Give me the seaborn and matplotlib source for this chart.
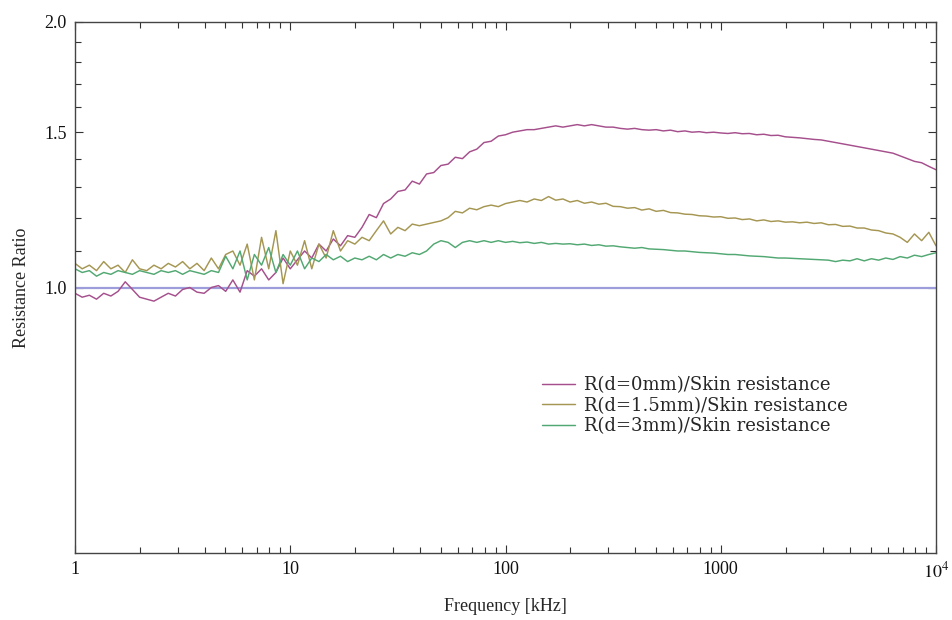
import numpy as np
import pandas as pd
import matplotlib
matplotlib.use("Agg")
import matplotlib.pyplot as plt
import seaborn as sns
from matplotlib.ticker import FixedLocator, NullFormatter, FixedFormatter, LogLocator

# ---------------- data ----------------
freq_khz = np.logspace(0, 4, 121)  # sampling grid, 1 kHz .. 10^4 kHz

ratio_d0 = [
    0.985, 0.975, 0.98, 0.97, 0.985, 0.978, 0.99, 1.015, 0.995, 0.975,
    0.97, 0.965, 0.975, 0.985, 0.978, 0.995, 1.0, 0.988, 0.985, 1.0,
    1.005, 0.99, 1.02, 0.988, 1.045, 1.03, 1.05, 1.02, 1.04, 1.08,
    1.05, 1.075, 1.1, 1.08, 1.12, 1.1, 1.135, 1.115, 1.145, 1.14,
    1.17, 1.21, 1.2, 1.245, 1.26, 1.285, 1.29, 1.32, 1.31, 1.345,
    1.35, 1.375, 1.38, 1.405, 1.4, 1.425, 1.435, 1.46, 1.465, 1.485,
    1.49, 1.50, 1.505, 1.51, 1.51, 1.515, 1.52, 1.525, 1.52, 1.525,
    1.53, 1.525, 1.53, 1.525, 1.52, 1.52, 1.515, 1.512, 1.515, 1.51,
    1.508, 1.51, 1.505, 1.508, 1.502, 1.505, 1.5, 1.502, 1.498, 1.5,
    1.497, 1.495, 1.498, 1.494, 1.495, 1.49, 1.492, 1.487, 1.488, 1.482,
    1.48, 1.478, 1.475, 1.472, 1.47, 1.465, 1.46, 1.455, 1.45, 1.445,
    1.44, 1.435, 1.43, 1.425, 1.42, 1.41, 1.4, 1.39, 1.385, 1.372,
    1.36,
]

ratio_d15 = [
    1.065, 1.05, 1.06, 1.045, 1.07, 1.05, 1.06, 1.04, 1.075, 1.05,
    1.045, 1.06, 1.05, 1.065, 1.055, 1.07, 1.05, 1.065, 1.045, 1.08,
    1.05, 1.09, 1.1, 1.06, 1.12, 1.02, 1.14, 1.05, 1.16, 1.01,
    1.1, 1.06, 1.13, 1.05, 1.12, 1.08, 1.16, 1.1, 1.13, 1.12,
    1.14, 1.13, 1.16, 1.19, 1.15, 1.17, 1.16, 1.18, 1.175, 1.18,
    1.185, 1.19, 1.2, 1.22, 1.215, 1.23, 1.225, 1.235, 1.24, 1.235,
    1.245, 1.25, 1.255, 1.25, 1.26, 1.255, 1.268, 1.256, 1.26, 1.25,
    1.255, 1.246, 1.25, 1.243, 1.246, 1.236, 1.235, 1.23, 1.232, 1.224,
    1.228, 1.22, 1.223, 1.216, 1.215, 1.211, 1.21, 1.206, 1.205, 1.202,
    1.203, 1.198, 1.199, 1.194, 1.196, 1.19, 1.193, 1.188, 1.19, 1.186,
    1.187, 1.184, 1.186, 1.182, 1.184, 1.178, 1.179, 1.173, 1.174, 1.168,
    1.168, 1.162, 1.16, 1.153, 1.15, 1.14, 1.125, 1.15, 1.13, 1.155,
    1.115,
]

ratio_d3 = [
    1.05, 1.04, 1.045, 1.03, 1.04, 1.035, 1.045, 1.04, 1.035, 1.045,
    1.04, 1.035, 1.045, 1.04, 1.045, 1.035, 1.045, 1.04, 1.035, 1.045,
    1.04, 1.085, 1.05, 1.1, 1.02, 1.09, 1.06, 1.11, 1.04, 1.09,
    1.06, 1.1, 1.05, 1.08, 1.07, 1.09, 1.075, 1.085, 1.07, 1.08,
    1.075, 1.085, 1.075, 1.09, 1.08, 1.09, 1.085, 1.095, 1.09, 1.1,
    1.12, 1.13, 1.125, 1.11, 1.125, 1.13, 1.125, 1.13, 1.125, 1.13,
    1.125, 1.128, 1.124, 1.126, 1.122, 1.125, 1.12, 1.122, 1.12, 1.121,
    1.118, 1.12, 1.116, 1.118, 1.114, 1.115, 1.112, 1.11, 1.108, 1.11,
    1.106, 1.105, 1.104, 1.102, 1.1, 1.1, 1.098, 1.096, 1.095, 1.094,
    1.092, 1.09, 1.09, 1.088, 1.086, 1.085, 1.084, 1.082, 1.08, 1.08,
    1.079, 1.078, 1.077, 1.076, 1.075, 1.074, 1.07, 1.074, 1.072, 1.078,
    1.072, 1.078, 1.074, 1.08, 1.076, 1.084, 1.08, 1.088, 1.084, 1.09,
    1.095,
]

unity_level = 1.0

series_labels = [
    "R(d=0mm)/Skin resistance",
    "R(d=1.5mm)/Skin resistance",
    "R(d=3mm)/Skin resistance",
]
series_colors = ["#a54f8c", "#a59652", "#52a872"]
unity_color = "#9d9ddc"

x_ticks = [1, 10, 100, 1000, 10000]
x_tick_labels = ["1", "10", "100", "1000", "$10^4$"]
y_ticks = [1.0, 1.5, 2.0]
y_tick_labels = ["1.0", "1.5", "2.0"]
y_minor_ticks = [1.1, 1.2, 1.3, 1.4, 1.6, 1.7, 1.8, 1.9]

# ---------------- build frame ----------------
df = pd.concat([
    pd.DataFrame({"freq": freq_khz, "ratio": vals, "series": lab})
    for vals, lab in zip([ratio_d0, ratio_d15, ratio_d3], series_labels)
], ignore_index=True)

sns.set_style("white")
plt.rcParams["font.family"] = ["Liberation Serif", "DejaVu Serif"]
plt.rcParams["mathtext.fontset"] = "stix"

fig = plt.figure(figsize=(9.52, 6.2), dpi=100)
ax = fig.add_axes([75 / 952, 67 / 620, (936 - 75) / 952, (553 - 22) / 620])

ax.axhline(unity_level, color=unity_color, lw=1.6, zorder=1)
sns.lineplot(data=df, x="freq", y="ratio", hue="series",
             palette=dict(zip(series_labels, series_colors)),
             linewidth=1.05, ax=ax, zorder=2)

ax.set_xscale("log")
ax.set_yscale("log")
ax.set_xlim(1, 10000)
ax.set_ylim(0.5, 2.0)

ax.xaxis.set_major_locator(FixedLocator(x_ticks))
ax.xaxis.set_major_formatter(FixedFormatter(x_tick_labels))
ax.xaxis.set_minor_locator(LogLocator(base=10, subs=range(2, 10)))
ax.xaxis.set_minor_formatter(NullFormatter())
ax.yaxis.set_major_locator(FixedLocator(y_ticks))
ax.yaxis.set_major_formatter(FixedFormatter(y_tick_labels))
ax.yaxis.set_minor_locator(FixedLocator(y_minor_ticks))
ax.yaxis.set_minor_formatter(NullFormatter())

ax.tick_params(which="both", direction="in", top=True, right=True,
               bottom=True, left=True, color="#333333", width=0.8)
ax.tick_params(which="major", length=6, labelsize=13, pad=6, labelcolor="#111111")
ax.tick_params(which="minor", length=4)

for sp in ax.spines.values():
    sp.set_color("#444444")
    sp.set_linewidth(1.0)

ax.set_xlabel("Frequency [kHz]", fontsize=13, labelpad=12)
ax.set_ylabel("Resistance Ratio", fontsize=13, labelpad=10)

handles, labels = ax.get_legend_handles_labels()
ax.legend(handles, labels, loc="upper left",
          bbox_to_anchor=(533 / 952, 1 - 367 / 620), bbox_transform=fig.transFigure,
          frameon=False, handlelength=1.85, handletextpad=0.5, labelspacing=0.15,
          borderpad=0, prop={"family": "DejaVu Serif", "size": 13})

fig.savefig("out.png", dpi=100)
